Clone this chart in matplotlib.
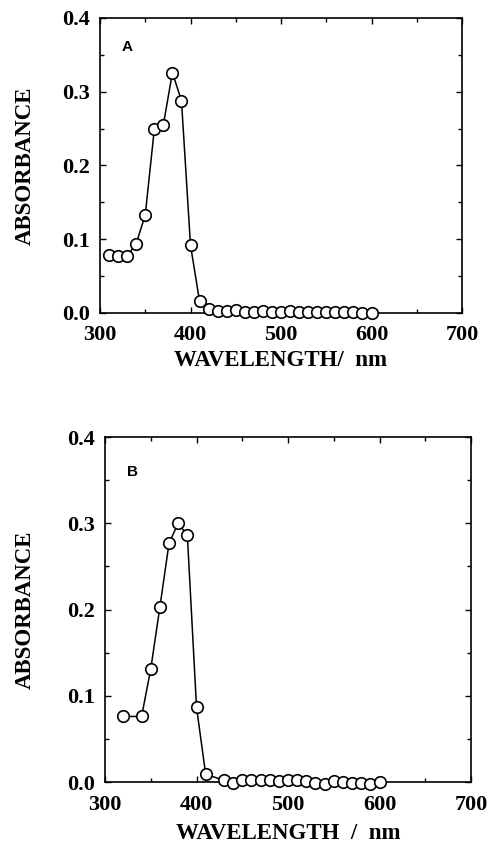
import matplotlib
matplotlib.use("Agg")
import matplotlib.pyplot as plt
from matplotlib.ticker import MultipleLocator

wl_a = [310, 320, 330, 340, 350, 360, 370, 380, 390, 400, 410, 420, 430, 440, 450,
        460, 470, 480, 490, 500, 510, 520, 530, 540, 550, 560, 570, 580, 590, 600]
abs_a = [0.079, 0.077, 0.077, 0.094, 0.133, 0.249, 0.255, 0.326, 0.288, 0.092, 0.016,
         0.005, 0.003, 0.003, 0.004, 0.002, 0.002, 0.003, 0.001, 0.001, 0.003, 0.002,
         0.001, 0.001, 0.001, 0.001, 0.001, 0.001, 0.0, 0.0]

wl_b = [320, 340, 350, 360, 370, 380, 390, 400, 410, 430, 440, 450, 460, 470, 480,
        490, 500, 510, 520, 530, 540, 550, 560, 570, 580, 590, 600]
abs_b = [0.076, 0.076, 0.131, 0.203, 0.277, 0.300, 0.286, 0.087, 0.009, 0.002, -0.001,
         0.002, 0.002, 0.002, 0.002, 0.001, 0.002, 0.002, 0.001, -0.001, -0.002, 0.001,
         0.0, -0.001, -0.001, -0.002, -0.0005]

xticks = [300, 400, 500, 600, 700]
yticks = [0.0, 0.1, 0.2, 0.3, 0.4]

serif = ["Liberation Serif", "DejaVu Serif"]
sans = ["Liberation Sans", "DejaVu Sans"]

fig = plt.figure(figsize=(4.88, 8.46), dpi=100)
fig.patch.set_facecolor("white")

ax_a = fig.add_axes([100/488, 1-313/846, 362/488, 295/846])
ax_b = fig.add_axes([105/488, 1-782/846, 366/488, 345/846])

def style(ax, x, y, tag, xlabel, w, h, ylab_dx, xlab_dy):
    ax.plot(x, y, "-o", color="black", lw=1.1, ms=8.3, mfc="white", mec="black", mew=1.2,
            clip_on=False, zorder=3)
    ax.set_xlim(300, 700)
    ax.set_ylim(0, 0.4)
    ax.set_xticks(xticks)
    ax.set_yticks(yticks)
    ax.xaxis.set_minor_locator(MultipleLocator(50))
    ax.yaxis.set_minor_locator(MultipleLocator(0.05))
    ax.tick_params(which="both", direction="in", top=True, right=True, width=1.0)
    ax.tick_params(which="major", length=4)
    ax.tick_params(axis="x", which="major", pad=9)
    ax.tick_params(axis="y", which="major", pad=7)
    ax.tick_params(which="minor", length=3)
    ax.set_xticklabels([str(v) for v in xticks], fontfamily=serif, fontweight="bold", fontsize=16)
    ax.set_yticklabels(["%.1f" % v for v in yticks], fontfamily=serif, fontweight="bold", fontsize=16)
    for s in ax.spines.values():
        s.set_linewidth(1.2)
    ax.set_ylabel("ABSORBANCE", fontfamily=serif, fontweight="bold", fontsize=16.5, va="center")
    ax.yaxis.set_label_coords(-ylab_dx / w, 0.5)
    ax.set_xlabel(xlabel, fontfamily=serif, fontweight="bold", fontsize=16.5, va="center")
    ax.xaxis.set_label_coords(0.5, -xlab_dy / h)
    ax.text(0.075, 0.9, tag, transform=ax.transAxes, fontfamily=sans, fontweight="bold",
            fontsize=11, ha="center", va="center")

style(ax_a, wl_a, abs_a, "A", "WAVELENGTH/  nm", 362, 295, 75, 47)
style(ax_b, wl_b, abs_b, "B", "WAVELENGTH  /  nm", 366, 345, 80, 51)

fig.savefig("out.png", dpi=100, facecolor="white")
